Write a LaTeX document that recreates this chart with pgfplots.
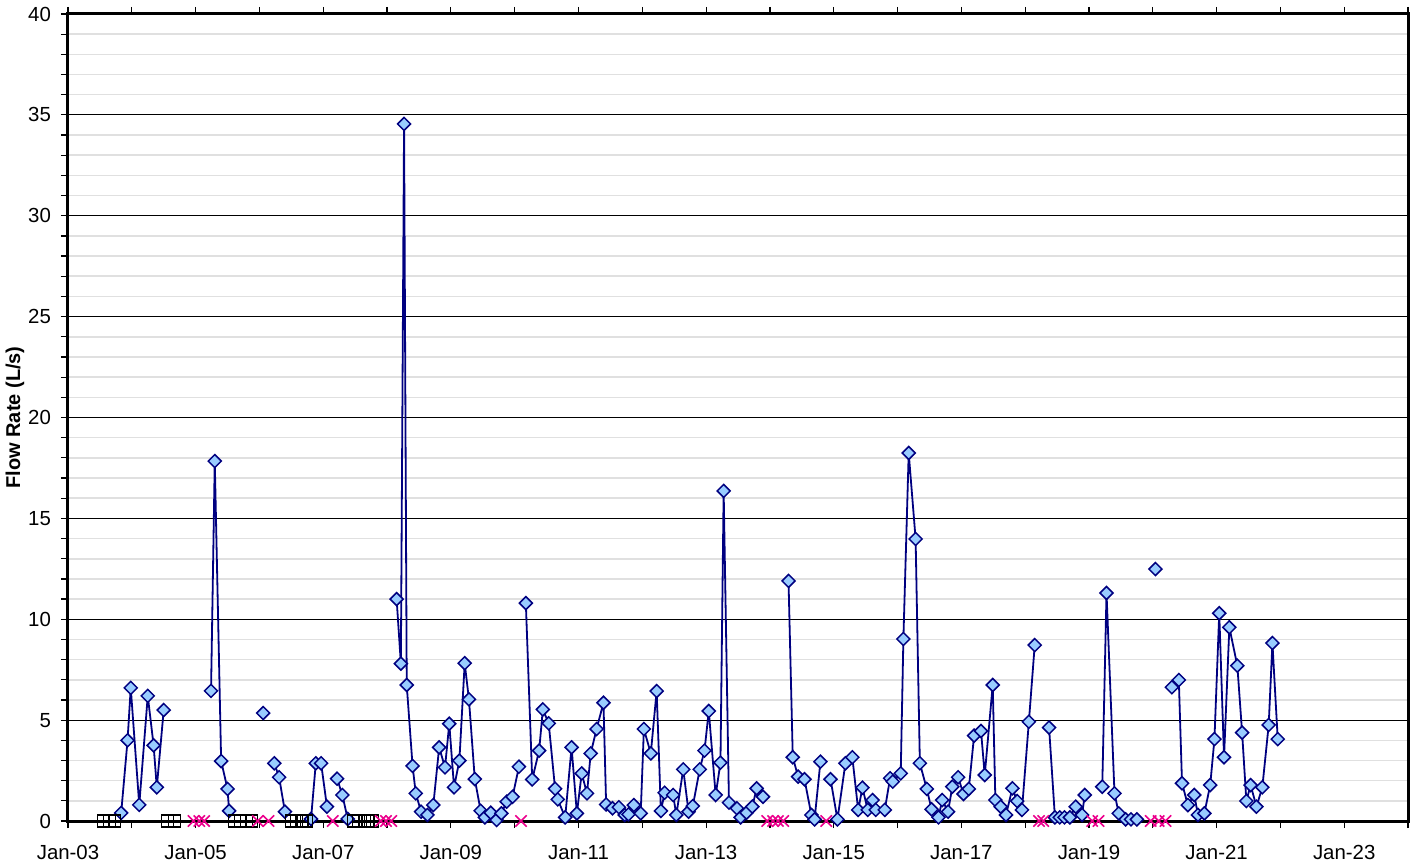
\documentclass[border=0pt]{standalone}
\usepackage{pgfplots}
\pgfplotsset{compat=1.18}
\usepackage{fontspec}
\setmainfont{Liberation Sans}
\definecolor{navyline}{RGB}{0,0,128}
\definecolor{diafill}{RGB}{153,204,255}
\definecolor{minorgray}{RGB}{224,224,224}

\begin{document}
\begin{tikzpicture}
\begin{axis}[
    name=main,
    scale only axis,
    width=670pt, height=403.5pt,
    xmin=0, xmax=252,
    ymin=0, ymax=40,
    clip=false,
    unbounded coords=jump,
    xtick={0,24,...,240},
    xticklabels={Jan-03,Jan-05,Jan-07,Jan-09,Jan-11,Jan-13,Jan-15,Jan-17,Jan-19,Jan-21,Jan-23},
    minor xtick={12,36,...,252},
    ytick={0,5,...,40},
    minor y tick num=4,
    ymajorgrids=true,
    yminorgrids=true,
    major grid style={black, line width=0.5pt},
    minor grid style={minorgray, line width=0.8pt},
    tick align=outside,
    major tick length=3.5pt,
    minor tick length=3.5pt,
    tick style={black, line width=0.6pt},
    axis line style={black, line width=1.5pt},
    x tick label style={font=\fontsize{10.2}{12}\selectfont, yshift=-5pt},
    y tick label style={font=\fontsize{10.2}{12}\selectfont, xshift=-1.5pt},
    /pgf/number format/assume math mode=true,
    ylabel={\bfseries Flow Rate (L/s)},
    ylabel style={font=\fontsize{10}{12}\selectfont},
    every axis y label/.style={at={(axis description cs:-0.0396,0.5)}, rotate=90, anchor=center},
]
% main flow series (breaks where samples are missing)
\addplot[color=navyline, line width=0.9pt, mark=square*, mark size=2.3pt,
    mark options={rotate=45, fill=diafill, draw=navyline, line width=0.75pt}]
coordinates {
(10.0,0.4)(11.2,4.0)(11.8,6.6)(13.4,0.8)(15.0,6.2)(16.1,3.75)(16.7,1.67)(18.0,5.5)
(19,nan)
(26.9,6.45)(27.6,17.84)(28.8,2.97)(30.0,1.59)(30.3,0.5)
(31,nan)
(36.7,5.35)
(37.5,nan)
(38.8,2.86)(39.7,2.17)(40.8,0.46)
(42,nan)
(45.7,0.1)(46.6,2.86)(47.6,2.86)(48.7,0.71)
(49.8,nan)
(50.6,2.1)(51.6,1.29)(52.6,0.1)
(53,nan)
(61.8,11.0)(62.6,7.8)(63.2,34.55)(63.7,6.74)(64.8,2.73)(65.4,1.37)(66.4,0.46)(67.6,0.3)
(68.7,0.79)(69.8,3.65)(70.9,2.66)(71.7,4.82)(72.6,1.67)(73.6,2.99)(74.6,7.82)(75.4,6.03)
(76.5,2.08)(77.6,0.51)(78.4,0.18)(79.5,0.41)(80.6,0.05)(81.5,0.38)(82.5,0.96)(83.6,1.2)(84.8,2.69)
(85.2,nan)
(86.1,10.8)(87.3,2.06)(88.6,3.49)(89.3,5.53)(90.4,4.84)(91.6,1.6)(92.1,1.07)(93.5,0.18)
(94.7,3.65)(95.7,0.38)(96.6,2.36)(97.6,1.37)(98.3,3.35)(99.4,4.56)(100.7,5.86)(101.2,0.82)
(102.4,0.63)(103.6,0.68)(104.7,0.3)(105.4,0.33)(106.4,0.79)(107.7,0.38)(108.3,4.56)(109.6,3.35)
(110.7,6.44)(111.5,0.5)(112.2,1.4)(113.8,1.29)(114.4,0.3)(115.7,2.56)(116.7,0.46)(117.5,0.74)
(118.8,2.56)(119.7,3.49)(120.5,5.45)(121.8,1.29)(122.7,2.89)(123.3,16.36)(124.3,0.91)(125.8,0.63)
(126.5,0.18)(127.6,0.41)(128.7,0.71)(129.5,1.62)(130.7,1.2)
(131.5,nan)
(135.5,11.9)(136.3,3.16)(137.3,2.2)(138.5,2.07)(139.8,0.3)(140.4,0.08)(141.5,2.94)
(142.6,nan)
(143.4,2.07)(144.7,0.08)(146.2,2.86)(147.5,3.16)(148.6,0.55)(149.4,1.65)(150.4,0.55)(151.3,1.04)
(151.9,0.55)(153.6,0.55)(154.6,2.12)(155.1,1.95)(156.6,2.36)(157.1,9.02)(158.1,18.24)(159.4,13.98)
(160.2,2.86)(161.5,1.59)(162.4,0.58)(163.7,0.18)(164.4,1.04)(165.5,0.46)(166.3,1.7)(167.4,2.17)
(168.4,1.34)(169.4,1.59)(170.4,4.23)(171.7,4.46)(172.4,2.28)(173.9,6.74)(174.4,1.04)(175.4,0.71)
(176.4,0.3)(177.6,1.62)(178.5,0.99)(179.4,0.55)(180.7,4.92)(181.8,8.72)
(182.6,nan)
(184.5,4.63)(185.6,0.18)(186.5,0.18)(187.4,0.18)(188.4,0.18)(189.5,0.71)(190.7,0.3)(191.2,1.29)
(192.6,nan)
(194.5,1.7)(195.3,11.3)(196.8,1.37)(197.6,0.38)(198.9,0.08)(199.9,0.08)(201.0,0.08)
(203.6,nan)
(204.5,12.49)
(205.1,nan)
(207.6,6.63)(208.9,6.99)(209.5,1.87)(210.6,0.79)(211.8,1.29)(212.5,0.3)(213.7,0.38)(214.8,1.78)
(215.6,4.06)(216.5,10.3)(217.4,3.16)(218.4,9.6)(219.9,7.7)(220.8,4.38)(221.6,0.99)(222.4,1.78)
(223.5,0.71)(224.6,1.67)(225.8,4.76)(226.5,8.82)(227.5,4.06)
};
% no flow observed
\addplot[only marks, mark=square, mark size=3pt, mark options={draw=black, line width=0.6pt}]
coordinates {
(6.7,0)(7.8,0)(8.8,0)(18.7,0)(20.0,0)(31.3,0)(32.5,0)(33.6,0)(34.5,0)
(42.1,0)(43.0,0)(44.0,0)(44.9,0)(53.7,0)(54.7,0)(55.7,0)(56.4,0)(57.3,0)
};
% not sampled
\addplot[only marks, mark=x, mark size=4pt, mark options={draw=magenta, line width=0.8pt}]
coordinates {
(23.6,0)(24.7,0)(25.6,0)(35.7,0)(37.7,0)(49.8,0)(58.8,0)(59.8,0)(60.8,0)(85.2,0)
(131.5,0)(132.6,0)(133.5,0)(134.5,0)(142.6,0)(182.6,0)(183.4,0)(192.6,0)(193.8,0)
(203.6,0)(205.1,0)(206.4,0)
};
\end{axis}
\pgfresetboundingbox
\path[use as bounding box] ([xshift=-34pt,yshift=-23pt]main.south west) rectangle ([xshift=1pt,yshift=7pt]main.north east);
\end{tikzpicture}
\end{document}
